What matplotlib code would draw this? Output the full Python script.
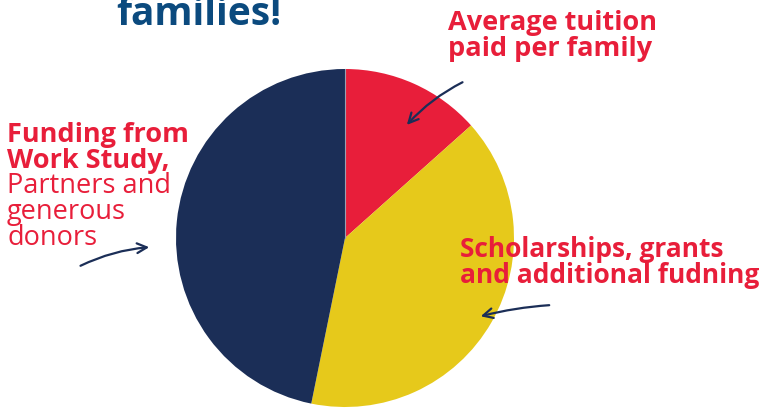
import matplotlib.pyplot as plt

# slice shares (clockwise from 12 o'clock)
labels = ['Average tuition paid per family',
          'Scholarships, grants and additional fudning',
          'Funding from Work Study, Partners and generous donors']
shares = [13.4, 39.8, 46.8]
colors = ['#e81e3a', '#e6c91b', '#1b2e57']

red = '#e81e3a'
navy = '#1b2e57'
H = 410

fig = plt.figure(figsize=(7.64, 4.10), dpi=100)
ax = fig.add_axes([0, 0, 1, 1])
ax.set_xlim(0, 764)
ax.set_ylim(0, H)
ax.set_aspect('equal')
ax.axis('off')

ax.pie(shares, colors=colors, startangle=90, counterclock=False,
       center=(345, H - 239), radius=169,
       wedgeprops=dict(linewidth=0))
ax.plot([345, 345], [H - 239, H - 70], color='#9aa0b0', lw=0.8)
ax.set_xlim(0, 764)
ax.set_ylim(0, H)

font = 'Open Sans'


def lines(x, baseline0, rows, fs=19.5, step=25.7):
    # rows: list of (text, bold)
    for i, (t, bold) in enumerate(rows):
        ax.text(x, H - (baseline0 + i * step), t, ha='left', va='baseline',
                fontsize=fs, fontweight='bold' if bold else 'normal',
                color=red, family=font)


# title (cut off at top in the source too)
ax.text(199, H - 25, 'families!', ha='center', va='baseline', fontsize=28,
        fontweight='bold', color='#0b4a7e', family=font)

lines(448, 30, [('Average tuition', True), ('paid per family', True)])
lines(7, 142, [('Funding from', True), ('Work Study,', True),
               ('Partners and', False), ('generous', False), ('donors', False)])
lines(460, 257, [('Scholarships, grants', True), ('and additional fudning', True)],
      fs=19.0, step=26)

# hand-drawn style arrows
arrow = dict(arrowstyle='->,head_length=0.7,head_width=0.35', color=navy, lw=1.6)
ax.annotate('', xy=(405, H - 128), xytext=(465, H - 82),
            arrowprops=dict(**arrow, connectionstyle='arc3,rad=0.1'))
ax.annotate('', xy=(152, H - 248), xytext=(78, H - 268),
            arrowprops=dict(**arrow, connectionstyle='arc3,rad=-0.1'))
ax.annotate('', xy=(478, H - 318), xytext=(552, H - 306),
            arrowprops=dict(**arrow, connectionstyle='arc3,rad=0.05'))

fig.savefig('out.png', dpi=100)
